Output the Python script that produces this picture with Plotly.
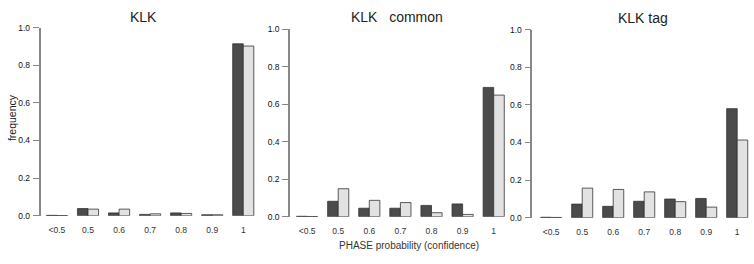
import plotly.graph_objects as go

categories = ["<0.5", "0.5", "0.6", "0.7", "0.8", "0.9", "1"]
panel_titles = ["KLK", "KLK   common", "KLK tag"]

klk_dark = [0.002, 0.038, 0.015, 0.007, 0.015, 0.005, 0.914]
klk_light = [0.001, 0.035, 0.035, 0.010, 0.012, 0.005, 0.902]
common_dark = [0.002, 0.082, 0.045, 0.045, 0.060, 0.068, 0.689]
common_light = [0.001, 0.149, 0.087, 0.075, 0.021, 0.012, 0.648]
tag_dark = [0.002, 0.072, 0.060, 0.087, 0.099, 0.102, 0.580]
tag_light = [0.001, 0.157, 0.150, 0.137, 0.085, 0.056, 0.413]

series = [(klk_dark, klk_light), (common_dark, common_light), (tag_dark, tag_light)]
yticks = [0.0, 0.2, 0.4, 0.6, 0.8, 1.0]
ytick_text = ["0.0", "0.2", "0.4", "0.6", "0.8", "1.0"]

W, H = 754, 264
DARK = "#4b4b4b"
LIGHT = "#e2e2e2"
EDGE = "#333333"
FONT = "Liberation Sans, Arial, sans-serif"

# layout geometry (pixels)
x_start = [40.5, 290.0, 532.3]
x_off = [0.53, 0.55, 0.61]
x_end_val = [6.6, 6.6, 6.5]
pitch = [31.05, 31.1, 31.0]
y_zero = [219.0, 220.0, 221.0]
y_one = [23.5, 25.0, 25.7]

fig = go.Figure()
xs = list(range(len(categories)))
for i, (d, l) in enumerate(series):
    xa = "x" if i == 0 else f"x{i+1}"
    ya = "y" if i == 0 else f"y{i+1}"
    fig.add_trace(go.Bar(x=xs, y=d, xaxis=xa, yaxis=ya, marker=dict(color=DARK, line=dict(color=EDGE, width=0.8)), showlegend=False))
    fig.add_trace(go.Bar(x=xs, y=l, xaxis=xa, yaxis=ya, marker=dict(color=LIGHT, line=dict(color=EDGE, width=0.8)), showlegend=False))

layout = dict(
    width=W, height=H,
    margin=dict(l=0, r=0, t=0, b=0),
    paper_bgcolor="white", plot_bgcolor="white",
    barmode="group", bargap=0.32, bargroupgap=0,
    font=dict(family=FONT, color="#222"),
)
for i in range(3):
    sx = "" if i == 0 else str(i + 1)
    x0 = x_start[i]
    x1 = x0 + (x_end_val[i] + x_off[i]) * pitch[i]
    layout["xaxis" + sx] = dict(
        domain=[x0 / W, min(x1 / W, 1.0)],
        range=[-x_off[i], x_end_val[i]],
        anchor="y" + sx,
        tickmode="array", tickvals=xs, ticktext=categories,
        showline=False, showgrid=False, zeroline=False, ticks="",
        ticklabelstandoff=8,
        tickfont=dict(size=8.5, color="#333", family=FONT),
    )
    layout["yaxis" + sx] = dict(
        domain=[1 - y_zero[i] / H, 1 - y_one[i] / H],
        range=[0, 1],
        anchor="x" + sx,
        tickmode="array", tickvals=yticks, ticktext=ytick_text,
        showline=True, linecolor="#888", linewidth=1.6,
        ticks="outside", ticklen=6, tickcolor="#888", tickwidth=1,
        showgrid=False, zeroline=False,
        ticklabelstandoff=1,
        tickfont=dict(size=8.5, color="#111", family=FONT),
    )
fig.update_layout(**layout)

title_pos = [(143, 12.5), (397, 12.5), (643, 13)]
for t, (px, py) in zip(panel_titles, title_pos):
    fig.add_annotation(text=t, x=px / W, y=1 - py / H, xref="paper", yref="paper",
                       showarrow=False, xanchor="center", yanchor="middle",
                       font=dict(size=14, color="#222", family=FONT))

fig.add_annotation(text="frequency", x=11.5 / W, y=1 - 117 / H, xref="paper", yref="paper",
                   showarrow=False, textangle=-90, xanchor="center", yanchor="middle",
                   font=dict(size=10.5, color="#222", family=FONT))
fig.add_annotation(text="PHASE probability (confidence)", x=409 / W, y=1 - 250 / H, xref="paper", yref="paper",
                   showarrow=False, xanchor="center", yanchor="middle",
                   font=dict(size=10, color="#333", family=FONT))

fig.write_html("out.html", config={"displayModeBar": False},
               post_script="document.body.style.margin='0px';document.body.style.overflow='hidden';")
